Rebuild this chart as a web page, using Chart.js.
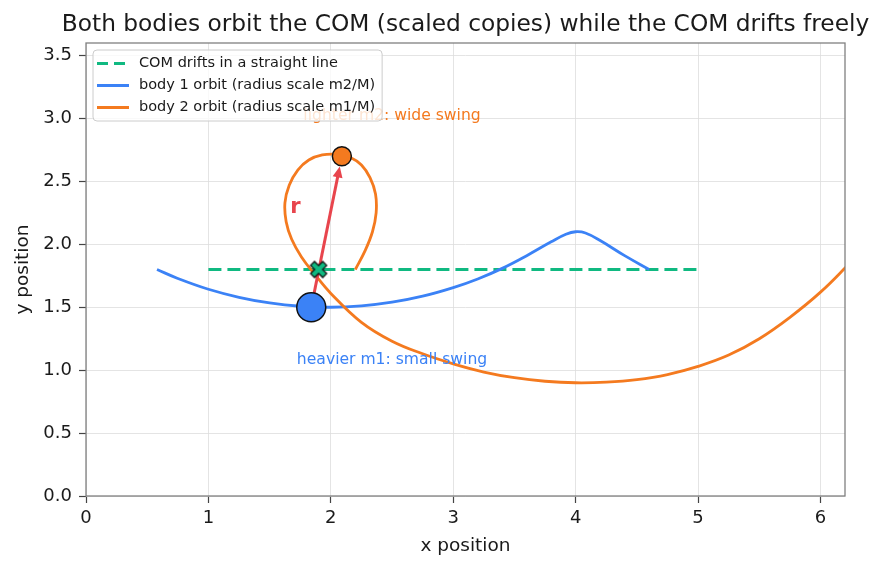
<!DOCTYPE html>
<html>
<head>
<meta charset="utf-8">
<script src="https://cdn.jsdelivr.net/npm/chart.js@4.4.1/dist/chart.umd.min.js"></script>
<style>
  html, body { margin: 0; padding: 0; background: #fff; }
  #wrap { width: 884px; height: 569px; }
</style>
</head>
<body>
<div id="wrap"><canvas id="orbitChart" width="884" height="569"></canvas></div>
<script>
// values
const comPathX = [1, 5];
const comPathY = [1.8, 1.8];

const body1X = [0.58, 0.75, 1.0, 1.25, 1.5, 1.75, 2.0, 2.25, 2.5, 2.75, 3.0, 3.2, 3.4, 3.6, 3.8, 3.92, 4.0, 4.08, 4.2, 4.4, 4.6];
const body1Y = [1.80, 1.729, 1.643, 1.579, 1.534, 1.508, 1.50, 1.511, 1.54, 1.588, 1.656, 1.725, 1.809, 1.91, 2.02, 2.08, 2.10, 2.09, 2.03, 1.91, 1.80];

const body2X = [2.20, 2.28, 2.34, 2.37, 2.365, 2.32, 2.25, 2.16, 2.05, 1.93, 1.82, 1.73, 1.66, 1.625, 1.635, 1.68, 1.76, 1.87, 2.0, 2.25, 2.5, 2.75, 3.0, 3.25, 3.5, 3.75, 4.0, 4.25, 4.5, 4.75, 5.0, 5.25, 5.5, 5.75, 6.0, 6.25];
const body2Y = [1.80, 1.95, 2.10, 2.25, 2.40, 2.53, 2.63, 2.69, 2.715, 2.71, 2.67, 2.59, 2.47, 2.33, 2.18, 2.04, 1.90, 1.76, 1.61, 1.38, 1.23, 1.13, 1.05, 0.985, 0.94, 0.912, 0.90, 0.905, 0.925, 0.965, 1.03, 1.12, 1.25, 1.42, 1.62, 1.86];

const comNow = [1.9, 1.8];
const body1Now = [1.84, 1.5];
const body2Now = [2.09, 2.7];

const xTicks = [0, 1, 2, 3, 4, 5, 6];
const yTicks = [0, 0.5, 1.0, 1.5, 2.0, 2.5, 3.0, 3.5];

const legendLabels = ['COM drifts in a straight line', 'body 1 orbit (radius scale m2/M)', 'body 2 orbit (radius scale m1/M)'];
const noteTexts = ['lighter m2: wide swing', 'heavier m1: small swing', 'r'];
const noteX = [2.5, 2.5, 1.71];
const noteY = [3.02, 1.08, 2.29];

const titleText = 'Both bodies orbit the COM (scaled copies) while the COM drifts freely';

const GREEN = '#10b981', BLUE = '#3b82f6', ORANGE = '#f47a1f', RED = '#e8454d';
const FONT = '"DejaVu Sans", sans-serif';

function pairs(xs, ys) { return xs.map((x, i) => ({ x: x, y: ys[i] })); }

// filled "X" marker like matplotlib's 'X'
function makeXMarker() {
  const c = document.createElement('canvas');
  c.width = 24; c.height = 24;
  const g = c.getContext('2d');
  const L = 8.6, w = 2.8;
  const pts = [[w, L], [w, w], [L, w], [L, -w], [w, -w], [w, -L], [-w, -L], [-w, -w], [-L, -w], [-L, w], [-w, w], [-w, L]];
  const a = Math.PI / 4;
  g.translate(12, 12);
  g.beginPath();
  pts.forEach((p, i) => {
    const x = p[0] * Math.cos(a) - p[1] * Math.sin(a);
    const y = p[0] * Math.sin(a) + p[1] * Math.cos(a);
    if (i === 0) g.moveTo(x, y); else g.lineTo(x, y);
  });
  g.closePath();
  g.fillStyle = GREEN;
  g.fill();
  g.lineWidth = 1.3;
  g.strokeStyle = '#111';
  g.stroke();
  return c;
}

const extras = {
  id: 'extras',
  beforeDatasetDraw(chart, args) {
    if (args.index !== 2) return;
    // separation arrow r, drawn under the markers
    const { ctx, scales: { x, y } } = chart;
    const x0 = x.getPixelForValue(body1Now[0]), y0 = y.getPixelForValue(body1Now[1]);
    const x1 = x.getPixelForValue(body2Now[0]), y1 = y.getPixelForValue(body2Now[1]);
    const len = Math.hypot(x1 - x0, y1 - y0);
    const ux = (x1 - x0) / len, uy = (y1 - y0) / len;
    const tipX = x1 - ux * 10.5, tipY = y1 - uy * 10.5;
    const headL = 11, headW = 5;
    const bx = tipX - ux * headL, by = tipY - uy * headL;
    ctx.save();
    ctx.strokeStyle = RED;
    ctx.fillStyle = RED;
    ctx.lineWidth = 3;
    ctx.beginPath();
    ctx.moveTo(x0, y0);
    ctx.lineTo(bx + ux * 2, by + uy * 2);
    ctx.stroke();
    ctx.beginPath();
    ctx.moveTo(tipX, tipY);
    ctx.lineTo(bx - uy * headW, by + ux * headW);
    ctx.lineTo(bx + uy * headW, by - ux * headW);
    ctx.closePath();
    ctx.fill();
    ctx.restore();
  },
  afterDatasetsDraw(chart) {
    const { ctx, scales: { x, y } } = chart;
    ctx.save();
    ctx.textAlign = 'center';
    ctx.textBaseline = 'middle';
    const colors = [ORANGE, BLUE, RED];
    noteTexts.forEach((t, i) => {
      ctx.fillStyle = colors[i];
      ctx.font = i === 2 ? 'bold 21px ' + FONT : '15.6px ' + FONT;
      ctx.fillText(t, x.getPixelForValue(noteX[i]), y.getPixelForValue(noteY[i]));
    });
    ctx.restore();
  },
  afterDraw(chart) {
    const { ctx, chartArea: a } = chart;
    ctx.save();
    // spines
    ctx.strokeStyle = '#808080';
    ctx.lineWidth = 1.3;
    ctx.strokeRect(a.left, a.top, a.right - a.left, a.bottom - a.top);
    // title
    ctx.fillStyle = '#1a1a1a';
    ctx.font = '23.3px ' + FONT;
    ctx.textAlign = 'center';
    ctx.textBaseline = 'middle';
    ctx.fillText(titleText, (a.left + a.right) / 2, 25);
    // legend box
    ctx.font = '14.5px ' + FONT;
    const maxW = Math.max(...legendLabels.map(t => ctx.measureText(t).width));
    const bl = a.left + 7, bt = a.top + 7;
    const bw = 46 + maxW + 7, bh = 71;
    ctx.beginPath();
    ctx.roundRect(bl, bt, bw, bh, 4);
    ctx.fillStyle = 'rgba(255,255,255,0.8)';
    ctx.fill();
    ctx.strokeStyle = '#cccccc';
    ctx.lineWidth = 1;
    ctx.stroke();
    const handleColors = [GREEN, BLUE, ORANGE];
    legendLabels.forEach((t, i) => {
      const cy = bt + 13.5 + i * 22;
      ctx.beginPath();
      ctx.setLineDash(i === 0 ? [11, 6] : []);
      ctx.strokeStyle = handleColors[i];
      ctx.lineWidth = 3;
      ctx.moveTo(bl + 4, cy);
      ctx.lineTo(bl + 36, cy);
      ctx.stroke();
      ctx.setLineDash([]);
      ctx.fillStyle = '#1a1a1a';
      ctx.textAlign = 'left';
      ctx.fillText(t, bl + 46, cy);
    });
    ctx.restore();
  }
};

new Chart(document.getElementById('orbitChart'), {
  type: 'scatter',
  data: {
    datasets: [
      { label: 'COM', data: pairs([comNow[0]], [comNow[1]]), pointStyle: makeXMarker(), pointRadius: 11, order: 0 },
      { label: 'body 2', data: pairs([body2Now[0]], [body2Now[1]]), pointRadius: 9.5, backgroundColor: ORANGE, borderColor: '#111', borderWidth: 1.5, order: 1 },
      { label: 'body 1', data: pairs([body1Now[0]], [body1Now[1]]), pointRadius: 14.5, backgroundColor: BLUE, borderColor: '#111', borderWidth: 1.5, order: 2 },
      { label: legendLabels[2], data: pairs(body2X, body2Y), showLine: true, borderColor: ORANGE, borderWidth: 2.8, pointRadius: 0, tension: 0.4, order: 3 },
      { label: legendLabels[1], data: pairs(body1X, body1Y), showLine: true, borderColor: BLUE, borderWidth: 2.8, pointRadius: 0, tension: 0.4, order: 4 },
      { label: legendLabels[0], data: pairs(comPathX, comPathY), showLine: true, borderColor: GREEN, borderWidth: 3, borderDash: [13, 6], pointRadius: 0, order: 5 }
    ]
  },
  options: {
    responsive: false,
    animation: false,
    events: [],
    layout: { padding: { top: 43, right: 39, left: 0, bottom: 0 } },
    plugins: { legend: { display: false }, tooltip: { enabled: false }, title: { display: false } },
    scales: {
      x: {
        type: 'linear', min: 0, max: 6.2,
        afterBuildTicks: s => { s.ticks = xTicks.map(v => ({ value: v })); },
        afterFit: s => { s.height = 73; },
        ticks: { color: '#1a1a1a', font: { family: FONT, size: 18 }, padding: 5, maxRotation: 0, callback: v => String(v) },
        grid: { color: '#dddddd', lineWidth: 0.8, tickLength: 7, tickColor: '#444', tickWidth: 1.2 },
        border: { display: false },
        title: { display: true, text: 'x position', color: '#1a1a1a', font: { family: FONT, size: 18.5 }, padding: { top: 0, bottom: 12 } }
      },
      y: {
        type: 'linear', min: 0, max: 3.6,
        afterBuildTicks: s => { s.ticks = yTicks.map(v => ({ value: v })); },
        afterFit: s => { s.width = 86; },
        ticks: { color: '#1a1a1a', font: { family: FONT, size: 18 }, padding: 7, callback: v => v.toFixed(1) },
        grid: { color: '#dddddd', lineWidth: 0.8, tickLength: 7, tickColor: '#444', tickWidth: 1.2 },
        border: { display: false },
        title: { display: true, text: 'y position', color: '#1a1a1a', font: { family: FONT, size: 18.5 }, padding: { top: 12, bottom: 0 } }
      }
    }
  },
  plugins: [extras]
});
</script>
</body>
</html>
